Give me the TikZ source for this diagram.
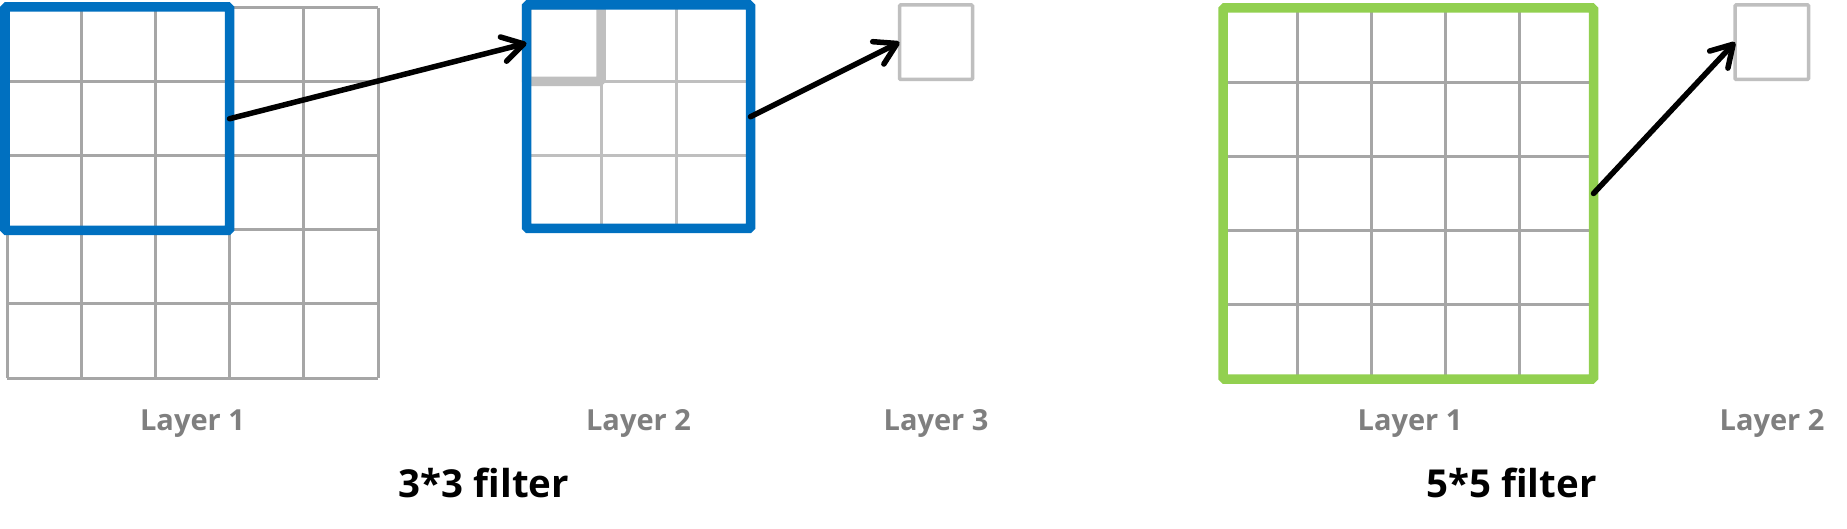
\documentclass[tikz,border=0pt]{standalone}
\usepackage{fontspec}
\setmainfont{Open Sans}
\usetikzlibrary{arrows.meta}
\definecolor{fblue}{HTML}{0070C0}
\definecolor{fgreen}{HTML}{92D050}
\definecolor{gridgray}{HTML}{A6A6A6}
\definecolor{lightgray}{HTML}{BFBFBF}
\definecolor{labgray}{HTML}{7F7F7F}
\tikzset{
  gridA/.style={draw=gridgray, line width=3pt},
  gridB/.style={draw=lightgray, line width=3pt},
  bluebox/.style={rectangle, draw=fblue, line width=9.5pt, rounded corners=1.5pt, inner sep=0pt, outer sep=0pt},
  greenbox/.style={rectangle, draw=fgreen, line width=9.5pt, rounded corners=1.5pt, inner sep=0pt, outer sep=0pt},
  cellhl/.style={rectangle, draw=lightgray, line width=9.5pt, rounded corners=1.5pt, inner sep=0pt, outer sep=0pt},
  smallbox/.style={rectangle, draw=lightgray, line width=3.5pt, rounded corners=1pt, inner sep=0pt, outer sep=0pt},
  conn/.style={draw=black, line width=5.5pt, line cap=round, line join=round,
    -{Straight Barb[length=21pt, width=25pt, line cap=round, line join=round]}},
  lab/.style={anchor=base, inner sep=0pt, text=labgray, font=\fontsize{29}{34}\selectfont\bfseries},
  ttl/.style={anchor=base, inner sep=0pt, text=black, font=\fontsize{38.5}{44}\selectfont\bfseries}
}
\begin{document}
\begin{tikzpicture}[x=1pt, y=-1pt]
\fill[white] (0,0) rectangle (1847,529);
\useasboundingbox (0,0) rectangle (1847,529);
% Layer 1 (left) 5x5 grid
\foreach \i in {0,...,5} {
  \draw[gridA] (7+74.2*\i, 8) -- (7+74.2*\i, 378);
  \draw[gridA] (7, 8+74*\i) -- (378, 8+74*\i);
}
\node[bluebox, minimum width=224.5pt, minimum height=223.5pt] (f1) at (117.25,118.75) {};
% Layer 2 (left) 3x3 grid
\draw[gridB] (601,5) -- (601,228.5);
\draw[gridB] (676,5) -- (676,228.5);
\draw[gridB] (526.5,82) -- (750.5,82);
\draw[gridB] (526.5,156) -- (750.5,156);
\node[cellhl, minimum width=74.5pt, minimum height=76.5pt] (c11) at (563.75,43.25) {};
\node[bluebox, minimum width=224pt, minimum height=223.5pt] (f2) at (638.5,116.75) {};
% Layer 3 (left)
\node[smallbox, minimum width=73pt, minimum height=74.5pt] (l3) at (936,42.25) {};
% Layer 1 (right) 5x5 grid
\foreach \i in {1,...,4} {
  \draw[gridA] (1223+74.1*\i, 8) -- (1223+74.1*\i, 379);
  \draw[gridA] (1223, 8+74.2*\i) -- (1593.5, 8+74.2*\i);
}
\node[greenbox, minimum width=370.5pt, minimum height=371pt] (f5) at (1408.25,193.5) {};
% Layer 2 (right)
\node[smallbox, minimum width=73.5pt, minimum height=74.5pt] (r2) at (1771.75,42.25) {};
% connectors
\draw[conn] (f1.east) -- (c11.west);
\draw[conn] (f2.east) -- (l3.west);
\draw[conn] (f5.east) -- (r2.west);
% labels
\node[lab] (t1) at (192.5,430) {Layer 1};
\node[lab] (t2) at (638.5,430) {Layer 2};
\node[lab] (t3) at (936,430) {Layer 3};
\node[lab] (t4) at (1410,430) {Layer 1};
\node[lab] (t5) at (1772,430) {Layer 2};
\node[ttl] (s1) at (484,497) {3*3 filter};
\node[ttl] (s2) at (1511.5,497) {5*5 filter};
\end{tikzpicture}
\end{document}
